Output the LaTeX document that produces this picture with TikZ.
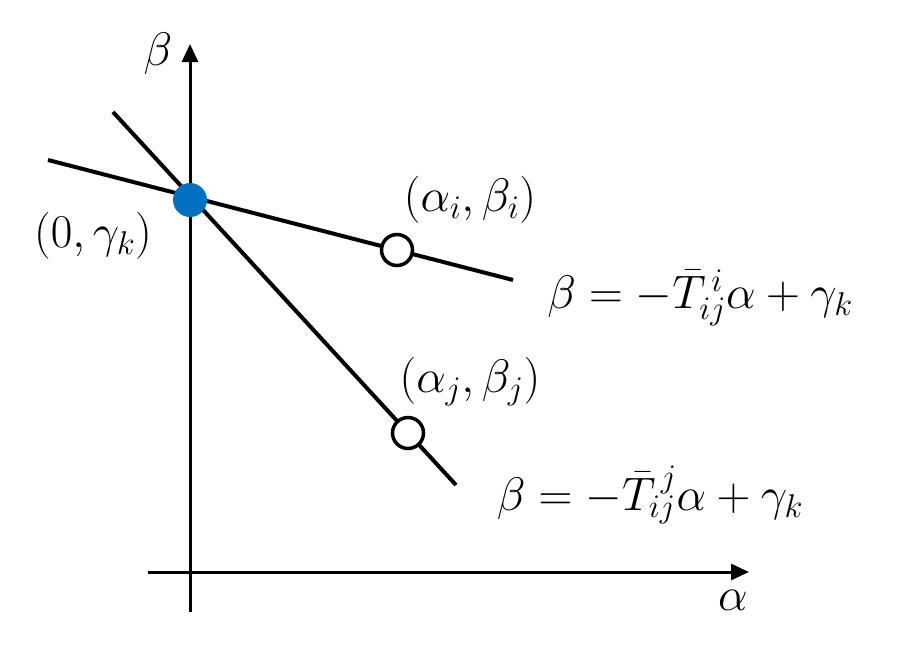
\RequirePackage{fix-cm}
\documentclass[tikz,border=0pt]{standalone}
\usetikzlibrary{arrows.meta}
\definecolor{dotblue}{RGB}{0,112,192}
\begin{document}
\begin{tikzpicture}[x=1pt,y=-1pt,
  axis/.style={line width=3pt,-{Triangle[length=18pt,width=16pt]}},
  lin/.style={line width=4pt},
  opendot/.style={circle,draw,line width=3.5pt,fill=white,minimum size=31pt,inner sep=0pt},
  bluedot/.style={circle,fill=dotblue,minimum size=34pt,inner sep=0pt},
  lbl/.style={font=\fontsize{47}{54}\selectfont,inner sep=0pt}]
\useasboundingbox (0,0) rectangle (914,646);
% axes
\coordinate (ya0) at (190,612);
\coordinate (ya1) at (190,44);
\coordinate (xa0) at (148,572);
\coordinate (xa1) at (749,572);
\draw[axis] (ya0) -- (ya1);
\draw[axis] (xa0) -- (xa1);
% lines
\coordinate (l1a) at (48,160);
\coordinate (l1b) at (513,280);
\coordinate (l2a) at (113,112);
\coordinate (l2b) at (456,485);
\draw[lin] (l1a) -- (l1b);
\draw[lin] (l2a) -- (l2b);
% dots
\node[bluedot] (p0) at (190,200) {};
\node[opendot] (pi) at (397,250) {};
\node[opendot] (pj) at (408,433) {};
% labels
\node[lbl] (lb) at (158,54) {$\beta$};
\node[lbl] (la) at (733,600) {$\alpha$};
\node[lbl] (l0) at (93,236) {$(0,\gamma_k)$};
\node[lbl] (li) at (470,200) {$(\alpha_i,\beta_i)$};
\node[lbl] (lj) at (470,382) {$(\alpha_j,\beta_j)$};
\node[lbl] (e1) at (700,298) {$\beta=-\bar{T}^{\,i}_{ij}\alpha+\gamma_k$};
\node[lbl] (e2) at (650,495) {$\beta=-\bar{T}^{\,j}_{ij}\alpha+\gamma_k$};
\end{tikzpicture}
\end{document}
